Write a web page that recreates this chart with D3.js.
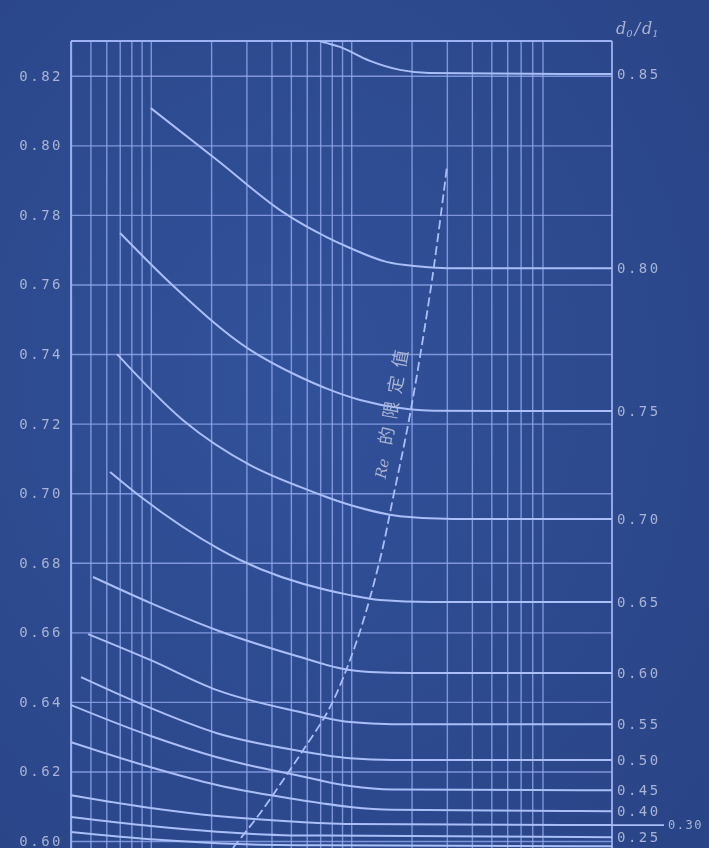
<!DOCTYPE html>
<html>
<head>
<meta charset="utf-8">
<script src="https://cdn.jsdelivr.net/npm/d3@7"></script>
<style>
  html, body { margin: 0; padding: 0; background: #2e4c8c; }
  svg { display: block; }
  .grid line { stroke: #93a9ee; stroke-opacity: 0.8; stroke-width: 1.4; }
  .grid path { display: none; }
  .lab { font-family: "DejaVu Sans Mono", monospace; font-size: 14px; fill: #a9b3d3; letter-spacing: 2.5px; }
</style>
</head>
<body>
<svg id="chart" width="709" height="848"></svg>
<script>
// left scale ticks (flow coefficient)
const yTicks = [0.60, 0.62, 0.64, 0.66, 0.68, 0.70, 0.72, 0.74, 0.76, 0.78, 0.80, 0.82];

// d0/d1 labels on the right and the level each one sits at
const betaLabels = ["0.85", "0.80", "0.75", "0.70", "0.65", "0.60", "0.55", "0.50", "0.45", "0.40", "0.30", "0.25"];
const betaLevels = [0.8205, 0.7647, 0.7236, 0.6926, 0.6687, 0.6483, 0.6336, 0.6233, 0.6146, 0.6086, 0.6046, 0.6011];

// curves, [Re, C]
const c085 = [[55000, 0.8330], [70000, 0.8300], [87900, 0.8283], [124000, 0.8243], [175000, 0.8217], [245000, 0.8208], [2e6, 0.8205]];
const c080 = [[10000, 0.8107], [21400, 0.7958], [45700, 0.7808], [98700, 0.7705], [150000, 0.7665], [220000, 0.7652], [300000, 0.7647], [2e6, 0.7647]];
const c075 = [[7030, 0.7748], [12050, 0.7613], [31300, 0.7412], [55600, 0.7334], [110700, 0.7268], [175000, 0.7245], [260000, 0.7237], [2e6, 0.7236]];
const c070 = [[6790, 0.7400], [14490, 0.7210], [31300, 0.7081], [55600, 0.7018], [98700, 0.6966], [175000, 0.6934], [320000, 0.6926], [2e6, 0.6926]];
const c065 = [[6266, 0.7061], [8940, 0.6989], [27900, 0.6808], [98700, 0.6707], [139000, 0.6693], [250000, 0.6687], [2e6, 0.6687]];
const c060 = [[5150, 0.6759], [10000, 0.6684], [21400, 0.6606], [55600, 0.6529], [87900, 0.6497], [124000, 0.6486], [200000, 0.6483], [2e6, 0.6483]];
const c055 = [[4864, 0.6595], [10000, 0.6520], [21400, 0.6434], [55600, 0.6371], [98700, 0.6342], [160000, 0.6336], [2e6, 0.6336]];
const c050 = [[4487, 0.6471], [10000, 0.6382], [21400, 0.6310], [55600, 0.6259], [98700, 0.6238], [160000, 0.6233], [2e6, 0.6233]];
const c045 = [[4000, 0.6391], [10000, 0.6302], [21400, 0.6241], [55600, 0.6187], [98700, 0.6158], [160000, 0.6148], [2e6, 0.6146]];
const c040 = [[4000, 0.6284], [10000, 0.6212], [21400, 0.6161], [55600, 0.6118], [98700, 0.6098], [160000, 0.6090], [2e6, 0.6086]];
const c030 = [[4000, 0.6132], [10000, 0.6095], [21400, 0.6072], [55600, 0.6055], [98700, 0.6049], [2e6, 0.6046]];
const c025 = [[4000, 0.6069], [10000, 0.6043], [21400, 0.6027], [55600, 0.6016], [2e6, 0.6011]];
const c020 = [[4000, 0.6026], [10000, 0.6005], [21400, 0.5994], [55600, 0.5988], [2e6, 0.5985]];

// limiting Re line (dashed)
const reLimit = [[25700, 0.5980], [35100, 0.6080], [45700, 0.6175], [57500, 0.6261], [78400, 0.6385], [107000, 0.6578],
                 [139000, 0.6808], [162000, 0.6989], [197000, 0.7230], [253000, 0.7613], [301000, 0.7943]];

const svg = d3.select("#chart"),
      width = +svg.attr("width"),
      height = +svg.attr("height"),
      margin = { top: 41, right: 97, bottom: 0, left: 71 };

const x = d3.scaleLog()
  .domain([4000, 2e6])
  .range([margin.left, width - margin.right]);

const y = d3.scaleLinear()
  .domain([0.598, 0.83])
  .range([height - margin.bottom, margin.top]);

// background, a little darker towards the right edge
const defs = svg.append("defs");
const bg = defs.append("radialGradient").attr("id", "bg").attr("cx", "40%").attr("cy", "45%").attr("r", "75%");
bg.append("stop").attr("offset", "0%").attr("stop-color", "#31519a");
bg.append("stop").attr("offset", "100%").attr("stop-color", "#2a4587");
defs.append("filter").attr("id", "soft")
  .append("feGaussianBlur").attr("stdDeviation", 0.6);
defs.append("clipPath").attr("id", "plot")
  .append("rect")
  .attr("x", margin.left).attr("y", margin.top)
  .attr("width", width - margin.left - margin.right)
  .attr("height", height - margin.top);

svg.append("rect").attr("width", width).attr("height", height).attr("fill", "url(#bg)");

const g = svg.append("g").attr("filter", "url(#soft)");

// vertical grid (log decades), the chart stops its rulings at 9e5
g.append("g")
  .attr("class", "grid")
  .attr("transform", `translate(0,${height})`)
  .call(d3.axisBottom(x)
    .tickValues(x.ticks().filter(t => t < 1e6))
    .tickSize(-(height - margin.top))
    .tickFormat(""));

// horizontal grid + left labels
const yAxis = g.append("g")
  .attr("class", "grid")
  .attr("transform", `translate(${margin.left},0)`)
  .call(d3.axisLeft(y)
    .tickValues(yTicks)
    .tickSize(-(width - margin.left - margin.right))
    .tickPadding(8)
    .tickFormat(d3.format(".2f")));
yAxis.selectAll("text").attr("class", "lab").attr("font-size", null).attr("font-family", null);

// frame
const frame = g.append("g").attr("stroke", "#9cb2f2").attr("stroke-width", 1.8).attr("fill", "none");
frame.append("line").attr("x1", x(4000)).attr("x2", x(2e6)).attr("y1", y(0.83)).attr("y2", y(0.83));
frame.append("line").attr("x1", x(4000)).attr("x2", x(4000)).attr("y1", y(0.83)).attr("y2", height);
frame.append("line").attr("x1", x(2e6)).attr("x2", x(2e6)).attr("y1", y(0.83)).attr("y2", height);

// curves
const line = d3.line()
  .x(d => x(d[0]))
  .y(d => y(d[1]))
  .curve(d3.curveMonotoneX);

const curves = [c085, c080, c075, c070, c065, c060, c055, c050, c045, c040, c030, c025, c020];
g.append("g")
  .attr("clip-path", "url(#plot)")
  .selectAll("path")
  .data(curves)
  .enter()
  .append("path")
  .attr("d", line)
  .attr("fill", "none")
  .attr("stroke", "#aabef7")
  .attr("stroke-width", 2);

// limiting Re line
g.append("path")
  .datum(reLimit)
  .attr("clip-path", "url(#plot)")
  .attr("d", d3.line().x(d => x(d[0])).y(d => y(d[1])).curve(d3.curveCatmullRom))
  .attr("fill", "none")
  .attr("stroke", "#aabef7")
  .attr("stroke-width", 1.8)
  .attr("stroke-dasharray", "9,4");

// label along the dashed line
const lt = g.append("text")
  .attr("transform", `translate(${x(172000) - 13},${y(0.7040)}) rotate(-80)`)
  .attr("fill", "#a9b3d3")
  .attr("font-family", "'Noto Sans CJK SC', sans-serif");
lt.append("tspan").attr("font-style", "italic").attr("font-size", 15).attr("font-family", "DejaVu Serif").text("Re");
lt.append("tspan").attr("dx", 14).attr("font-size", 18).attr("letter-spacing", 8).text("的限定值");

// right-hand d0/d1 labels
g.selectAll(".rlab")
  .data(betaLabels)
  .enter()
  .append("text")
  .attr("class", "lab")
  .attr("x", d => d === "0.30" ? width - margin.right + 56 : width - margin.right + 5)
  .attr("y", (d, i) => y(betaLevels[i]))
  .attr("dy", "0.35em")
  .style("font-size", d => d === "0.30" ? "12px" : null)
  .style("letter-spacing", d => d === "0.30" ? "1.5px" : null)
  .text(d => d);

// leader for the crowded 0.30 label
const i30 = betaLabels.indexOf("0.30");
g.append("line")
  .attr("x1", x(2e6)).attr("x2", x(2e6) + 52)
  .attr("y1", y(betaLevels[i30])).attr("y2", y(betaLevels[i30]))
  .attr("stroke", "#aabef7").attr("stroke-width", 1.8);

// d0/d1 title
const tt = g.append("text")
  .attr("x", width - margin.right + 4)
  .attr("y", 34)
  .attr("fill", "#a9b3d3")
  .attr("font-family", "DejaVu Serif")
  .attr("font-style", "italic")
  .attr("font-size", 16);
tt.append("tspan").text("d");
tt.append("tspan").attr("font-size", 10).attr("dy", 3).text("0");
tt.append("tspan").attr("dy", -3).attr("dx", 2).text("/");
tt.append("tspan").attr("dx", 2).text("d");
tt.append("tspan").attr("font-size", 10).attr("dy", 3).text("1");
</script>
</body>
</html>
